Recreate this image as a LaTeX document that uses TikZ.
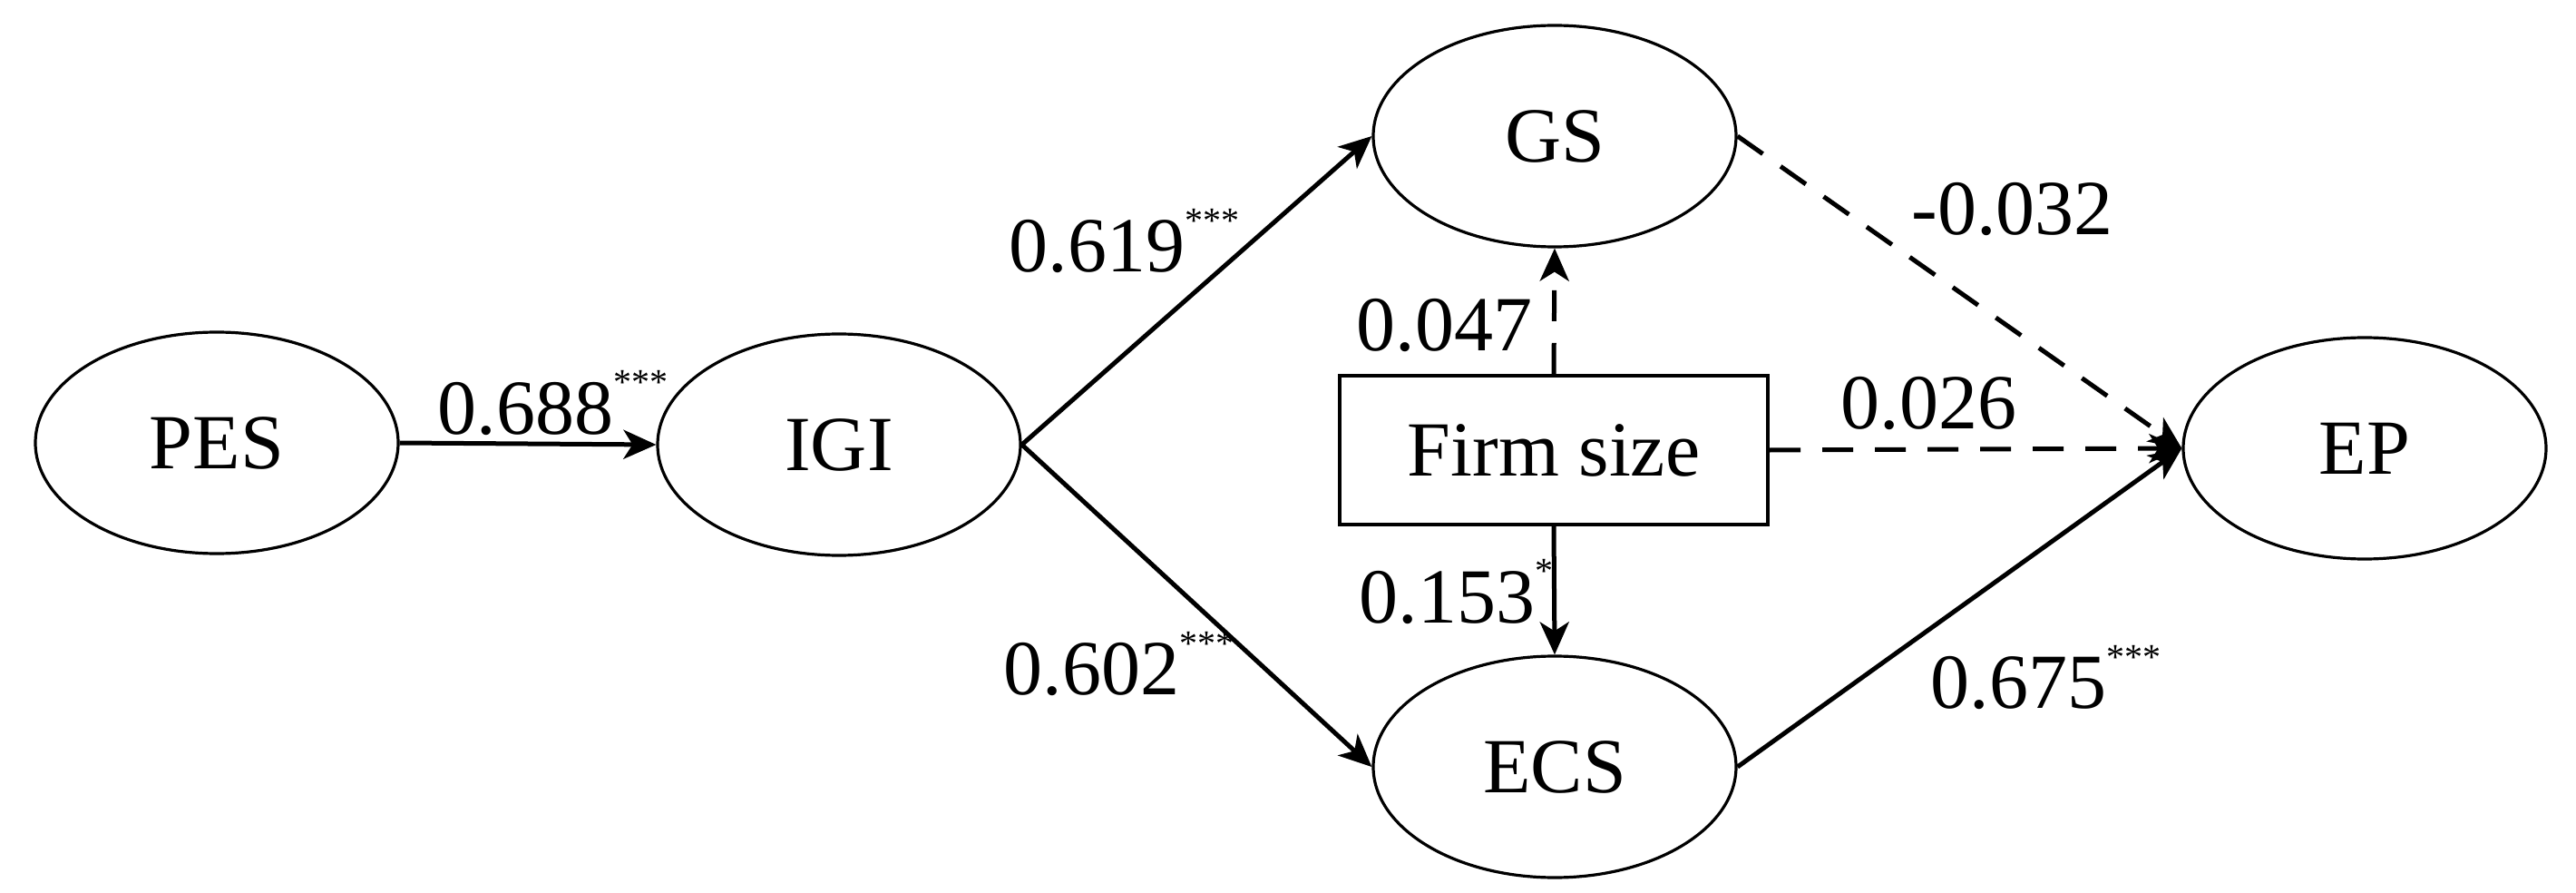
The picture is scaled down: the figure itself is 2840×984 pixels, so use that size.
\documentclass[tikz,border=0pt]{standalone}
\usepackage{fontspec}
\setmainfont{Liberation Serif}
\usetikzlibrary{arrows.meta,shapes.geometric}
\newcommand{\sigmark}[1]{\raisebox{0.5em}{\fontsize{10pt}{10pt}\selectfont #1}}
\begin{document}
\begin{tikzpicture}[x=0.25pt,y=-0.25pt,
  font=\fontsize{21.5pt}{25pt}\selectfont,
  latent/.style={draw,ellipse,line width=0.8pt,inner sep=0pt,minimum width=100pt,minimum height=61pt},
  obsbox/.style={draw,rectangle,line width=1.1pt,inner sep=0pt,minimum width=118pt,minimum height=41pt},
  path/.style={line width=1.25pt,-{Stealth[length=9pt,width=8pt,inset=2.5pt]}},
  nspath/.style={path,dash pattern=on 8.5pt off 6pt},
  coef/.style={anchor=base west,inner sep=0pt}]
\useasboundingbox (0,0) rectangle (2840,984);
\node[latent] (PES) at (239,488) {PES};
\node[latent] (IGI) at (925,490) {IGI};
\node[latent] (GS) at (1714,150) {GS};
\node[latent] (ECS) at (1714,845) {ECS};
\node[latent] (EP) at (2607,494) {EP};
\node[obsbox] (FS) at (1713,496) {Firm size};
\coordinate (epin) at (EP.west);
\draw[path] (PES.east) -- (IGI.west);
\draw[path] (IGI.east) -- (GS.west);
\draw[path] (IGI.east) -- (ECS.west);
\draw[nspath] (FS.north) -- (GS.south);
\draw[path] (FS.south) -- (ECS.north);
\draw[nspath] (GS.east) -- (epin);
\draw[nspath] (FS.east) -- (epin);
\draw[path] (ECS.east) -- (epin);
\node[coef] (l1) at (482,478) {0.688\sigmark{***}};
\node[coef] (l2) at (1112,300) {0.619\sigmark{***}};
\node[coef] (l3) at (1106,765) {0.602\sigmark{***}};
\node[coef] (l4) at (1495,386) {0.047};
\node[coef] (l5) at (1498,686) {0.153\sigmark{*}};
\node[coef] (l6) at (2107,259) {-0.032};
\node[coef] (l7) at (2029,472) {0.026};
\node[coef] (l8) at (2128,780) {0.675\sigmark{***}};
\end{tikzpicture}
\end{document}
